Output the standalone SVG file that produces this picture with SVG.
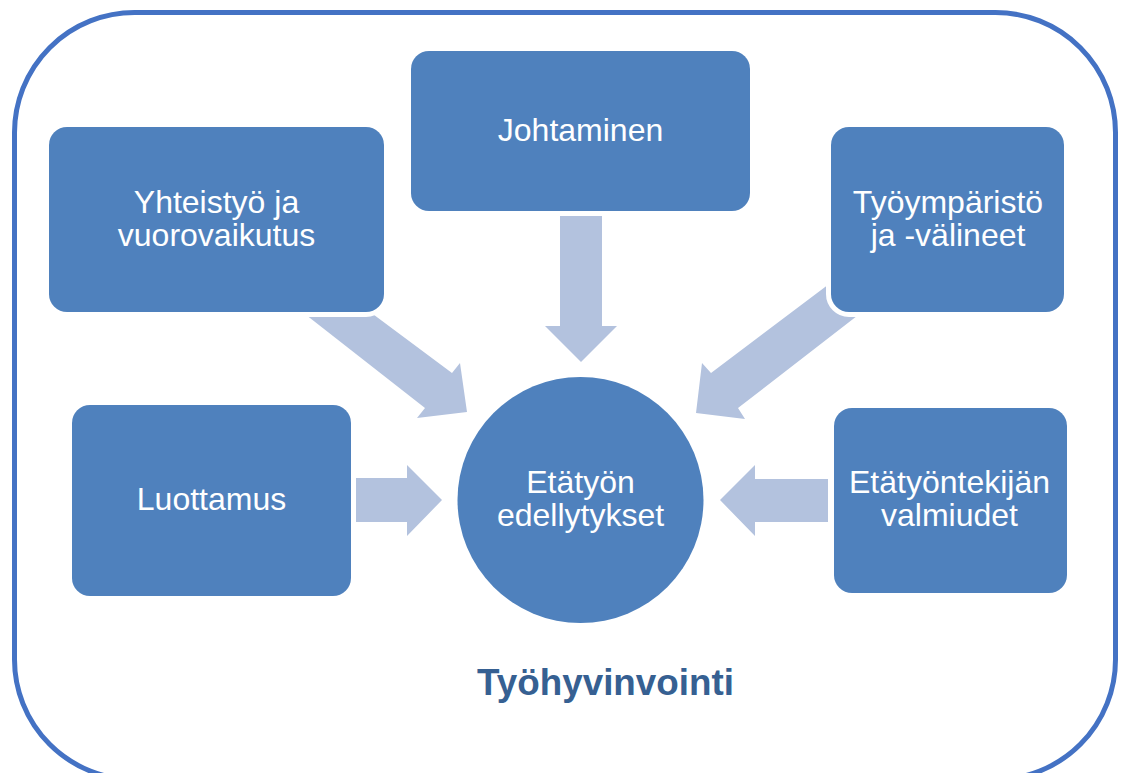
<svg xmlns="http://www.w3.org/2000/svg" width="1128" height="773" viewBox="0 0 1128 773">
<style>
.box{fill:#4F81BD;stroke:#FFFFFF;stroke-width:10;paint-order:stroke}
.arrow{fill:#B3C2DE}
.lbl{font-family:"Liberation Sans",Arial,sans-serif;font-size:32px;fill:#FFFFFF;text-anchor:middle}
.title{font-family:"Liberation Sans",Arial,sans-serif;font-size:36.8px;font-weight:bold;fill:#366092;text-anchor:middle}
</style>
<rect width="1128" height="773" fill="#FFFFFF"/>
<g id="frame">
<rect x="14.5" y="12.5" width="1101" height="767" rx="120" ry="120" fill="none" stroke="#4472C4" stroke-width="5"/>
<text class="title" x="605.5" y="695">Työhyvinvointi</text>
</g>
<g id="connectors">
<polygon class="arrow" points="560,216 602,216 602,326 617,326 581,362 545,326 560,326"/>
<polygon class="arrow" points="356,478 407,478 407,465 442,500 407,536 407,522 356,522"/>
<polygon class="arrow" points="828,479 755,479 755,465 720,500 755,536 755,522 828,522"/>
<polygon class="arrow" points="287,300 354,300 452,373 460,363 467,412 417,418 425,408"/>
<polygon class="arrow" points="845,272 875,302 738,408 745,419 696,413 702,363 711,373"/>
</g>
<g id="node-yhteistyo">
<rect class="box" x="49" y="127" width="335" height="185" rx="18"/>
<text class="lbl" x="216.5" y="213">Yhteistyö ja</text>
<text class="lbl" x="216.5" y="246">vuorovaikutus</text>
</g>
<g id="node-johtaminen">
<rect class="box" x="411" y="51" width="339" height="160" rx="18"/>
<text class="lbl" x="580.5" y="141">Johtaminen</text>
</g>
<g id="node-tyoymparisto">
<rect class="box" x="831" y="127" width="233" height="185" rx="18"/>
<text class="lbl" x="948" y="213">Työympäristö</text>
<text class="lbl" x="948" y="246">ja -välineet</text>
</g>
<g id="node-luottamus">
<rect class="box" x="72" y="405" width="279" height="191" rx="18"/>
<text class="lbl" x="211.5" y="510">Luottamus</text>
</g>
<g id="node-valmiudet">
<rect class="box" x="834" y="408" width="233" height="185" rx="18"/>
<text class="lbl" x="949.5" y="493">Etätyöntekijän</text>
<text class="lbl" x="949.5" y="526">valmiudet</text>
</g>
<g id="node-center">
<circle cx="580.5" cy="500" r="123" fill="#4F81BD"/>
<text class="lbl" x="580.5" y="493">Etätyön</text>
<text class="lbl" x="580.5" y="526">edellytykset</text>
</g>
</svg>
